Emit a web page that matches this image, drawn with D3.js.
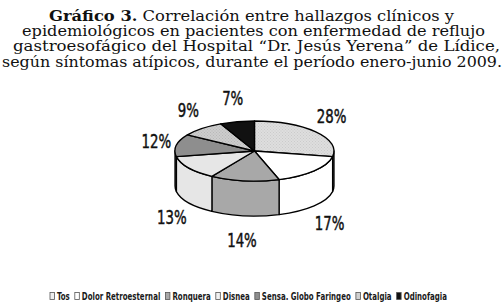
<!DOCTYPE html>
<html><head><meta charset="utf-8">
<script src="https://cdn.jsdelivr.net/npm/d3@7"></script>
<style>html,body{margin:0;padding:0;background:#fff;}svg{display:block;}</style>
</head><body>
<svg id="chart" width="504" height="306"></svg>
<script>
// ---- data ----
const categories = ["Tos","Dolor Retroesternal","Ronquera","Disnea","Sensa. Globo Faringeo","Otalgia","Odinofagia"];
const values = [28,17,14,13,12,9,7];
const labels = ["28%","17%","14%","13%","12%","9%","7%"];
const titleBold = "Gráfico 3.";
const titleLines = [
  " Correlación entre hallazgos clínicos y",
  "epidemiológicos en pacientes con enfermedad de reflujo",
  "gastroesofágico del Hospital “Dr. Jesús Yerena” de Lídice,",
  "según síntomas atípicos, durante el período enero-junio 2009."
];

// ---- styling ----
const fills = ["url(#dotTos)","#ffffff","#a8a8a8","#e6e6e6","#8e8e8e","url(#dotOta)","#111111"];
const legendFills = ["#eeeeee","#ffffff","#a8a8a8","#f2f2f2","#8e8e8e","#d0d0d0","#111111"];

const svg = d3.select("#chart");
const defs = svg.append("defs");
function dotPattern(id, bg, dot){
  const p = defs.append("pattern").attr("id",id).attr("width",3).attr("height",3).attr("patternUnits","userSpaceOnUse");
  p.append("rect").attr("width",3).attr("height",3).attr("fill",bg);
  p.append("rect").attr("x",0).attr("y",0).attr("width",1).attr("height",1).attr("fill",dot);
  p.append("rect").attr("x",1.5).attr("y",1.5).attr("width",1).attr("height",1).attr("fill",dot);
}
dotPattern("dotTos","#dedede","#cbcbcb");
dotPattern("dotOta","#cdcdcd","#b8b8b8");

// ---- title ----
const titleFont = "'DejaVu Serif', 'Liberation Serif', serif";
const titleGeom = [[49,454],[22,485],[13,500],[2,502]];
titleLines.forEach((line,i)=>{
  const t = svg.append("text")
    .attr("x", titleGeom[i][0]).attr("y", 20.7 + 15.3*i)
    .attr("font-family", titleFont).attr("font-size", 14.5).attr("fill","#111")
    .attr("textLength", titleGeom[i][1]-titleGeom[i][0]).attr("lengthAdjust","spacingAndGlyphs");
  if(i===0){ t.append("tspan").attr("font-weight","bold").text(titleBold); }
  t.append("tspan").text(line);
});

// ---- 3D pie ----
const cx = 254.5, cy = 151, rx = 79.5, ry = 30, depth = 35;
const pie = d3.pie().sort(null).value(d=>d)(values);
const P = (a, dy=0) => [cx + rx*Math.sin(a), cy - ry*Math.cos(a) + dy];
const g = svg.append("g").attr("stroke","#000").attr("stroke-width",1.3).attr("stroke-linejoin","round");

// sides (front half only)
pie.forEach((d,i)=>{
  const s = Math.max(d.startAngle, Math.PI/2), e = Math.min(d.endAngle, 3*Math.PI/2);
  if(s >= e) return;
  const large = (e - s) > Math.PI ? 1 : 0;
  const [x0,y0] = P(s), [x1,y1] = P(e), [x2,y2] = P(e,depth), [x3,y3] = P(s,depth);
  g.append("path")
    .attr("d", `M${x0},${y0} A${rx},${ry} 0 ${large} 1 ${x1},${y1} L${x2},${y2} A${rx},${ry} 0 ${large} 0 ${x3},${y3} Z`)
    .attr("fill", fills[i]);
});
// tops
pie.forEach((d,i)=>{
  const large = (d.endAngle - d.startAngle) > Math.PI ? 1 : 0;
  const [x0,y0] = P(d.startAngle), [x1,y1] = P(d.endAngle);
  g.append("path")
    .attr("d", `M${cx},${cy} L${x0},${y0} A${rx},${ry} 0 ${large} 1 ${x1},${y1} Z`)
    .attr("fill", fills[i]);
});

// labels (condensed look)
const labelFont = "'DejaVu Sans Condensed', 'Roboto', sans-serif";
pie.forEach((d,i)=>{
  const a = (d.startAngle + d.endAngle)/2;
  const c = Math.cos(a);
  const x = cx + 100*Math.sin(a);
  const y = cy - 54*c + (c < 0 ? 36 : 0);
  svg.append("g").attr("transform",`translate(${x},${y}) scale(0.78,1)`)
    .append("text").attr("dy","0.36em")
    .attr("text-anchor","middle").attr("font-family",labelFont)
    .attr("font-size",19).attr("fill","#111")
    .attr("stroke","#111").attr("stroke-width",0.45).text(labels[i]);
});

// ---- legend ----
const lg = svg.append("g");
const legendFont = "'DejaVu Sans Condensed', sans-serif";
const items = categories.map((c,i)=>{
  const it = lg.append("g");
  it.append("rect").attr("width",4.5).attr("height",7).attr("y",-7.5)
    .attr("fill",legendFills[i]).attr("stroke","#555").attr("stroke-width",0.8);
  const tg = it.append("g");
  const t = tg.append("text").attr("font-family",legendFont)
    .attr("font-size",10.5).attr("font-weight","bold").attr("fill","#1a1a1a").text(c);
  return {it, tg, t};
});
const gap = 5, boxW = 7;
const natural = items.map(o=>o.t.node().getComputedTextLength());
const target = 447 - 50 - items.length*boxW - gap*(items.length-1);
const sx = target/d3.sum(natural);
let xpos = 50;
items.forEach((o,i)=>{
  o.it.attr("transform",`translate(${xpos},300)`);
  o.tg.attr("transform",`translate(${boxW},0) scale(${sx},1)`);
  xpos += boxW + natural[i]*sx + gap;
});
</script>
</body></html>
